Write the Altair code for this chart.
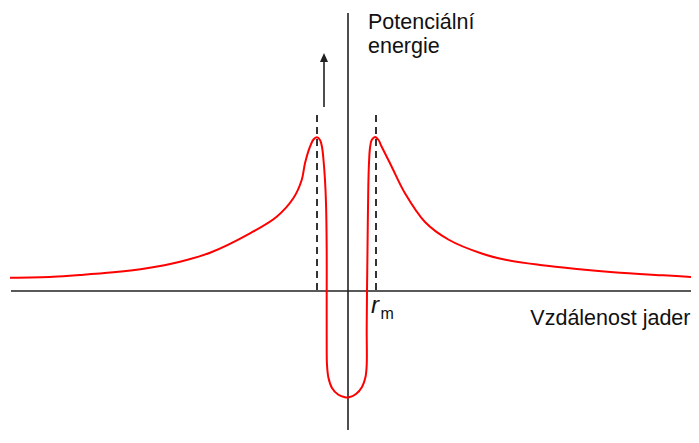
import altair as alt
import pandas as pd

# Potential energy curve (units: arbitrary)
curve_x = [-33.8, -29.5, -26.8, -23.47, -20.13, -16.8, -13.8, -9.8, -7.13, -5.47,
           -4.63, -4.3, -3.8, -3.45, -3.13, -2.8, -2.6, -2.45, -2.3, -2.2,
           -2.13, -2.13, -2.13, -2.1, -1.95, -1.6, -1.0, -0.3, 0.1, 0.8,
           1.4, 1.75, 1.87, 1.87, 1.9, 1.95, 2.03, 2.1, 2.2, 2.37,
           2.7, 3.05, 3.37, 4.37, 5.7, 7.7, 10.03, 13.37, 15.87,
           19.2, 22.87, 26.53, 31.53, 35.03]
curve_y = [1.33, 1.43, 1.6, 1.87, 2.27, 2.93, 3.83, 5.77, 7.43, 9.27,
           11.1, 12.77, 14.43, 15.15, 15.37, 15.1, 14.4, 13.1, 11.1, 8.8,
           4.1, 0.0, -4.9, -7.4, -8.7, -9.7, -10.35, -10.63, -10.63, -10.3,
           -9.6, -8.6, -7.4, -3.9, -0.2, 4.1, 10.43, 12.8, 14.3, 15.1,
           15.4, 15.1, 14.43, 12.43, 9.77, 6.9, 5.15, 3.75, 3.1,
           2.6, 2.2, 1.88, 1.57, 1.37]

# Peak markers (dashed)
peak_x = [-3.1, 2.8]
peak_top = 17.6

# Arrow
arrow_x = -2.4
arrow_y0 = 18.4
arrow_y1 = 23.0
arrow_head_y = 23.35

x_dom = [-34.0, 34.3]
y_dom = [-13.9, 28.3]

xs = alt.Scale(domain=x_dom, nice=False, zero=False)
ys = alt.Scale(domain=y_dom, nice=False, zero=False)

curve_df = pd.DataFrame({"x": curve_x, "y": curve_y, "i": list(range(len(curve_x)))})

h_axis = alt.Chart(pd.DataFrame({"x": [-33.7], "x2": [34.3], "y": [0.0]})).mark_rule(
    color="#222222", strokeWidth=1.6
).encode(
    x=alt.X("x:Q", scale=xs, axis=None),
    x2="x2:Q",
    y=alt.Y("y:Q", scale=ys, axis=None),
)

v_axis = alt.Chart(pd.DataFrame({"x": [0.0], "y": [27.8], "y2": [-13.9]})).mark_rule(
    color="#222222", strokeWidth=1.6
).encode(
    x=alt.X("x:Q", scale=xs, axis=None),
    y=alt.Y("y:Q", scale=ys, axis=None),
    y2="y2:Q",
)

dashes = alt.Chart(pd.DataFrame({"x": peak_x, "y": [peak_top] * 2, "y2": [0.0] * 2})).mark_rule(
    color="#333333", strokeWidth=2, strokeDash=[7, 5]
).encode(
    x=alt.X("x:Q", scale=xs, axis=None),
    y=alt.Y("y:Q", scale=ys, axis=None),
    y2="y2:Q",
)

shaft = alt.Chart(pd.DataFrame({"x": [arrow_x], "y": [arrow_y0], "y2": [arrow_y1]})).mark_rule(
    color="#222222", strokeWidth=1.6
).encode(
    x=alt.X("x:Q", scale=xs, axis=None),
    y=alt.Y("y:Q", scale=ys, axis=None),
    y2="y2:Q",
)

head = alt.Chart(pd.DataFrame({"x": [arrow_x], "y": [arrow_head_y]})).mark_point(
    shape="M0,-1L0.9,1L-0.9,1Z", filled=True, color="#222222", size=80, opacity=1
).encode(
    x=alt.X("x:Q", scale=xs, axis=None),
    y=alt.Y("y:Q", scale=ys, axis=None),
)

curve = alt.Chart(curve_df).mark_line(
    color="#ff0000", strokeWidth=2, interpolate="catmull-rom", clip=True
).encode(
    x=alt.X("x:Q", scale=xs, axis=None),
    y=alt.Y("y:Q", scale=ys, axis=None),
    order="i:Q",
)

top_text = ["Potenciální", "energie"]
top_x = [2.0, 2.0]
top_y = [26.2, 23.8]

top_labels = alt.Chart(pd.DataFrame({"t": top_text, "x": top_x, "y": top_y})).mark_text(
    align="left", baseline="alphabetic", font="Liberation Sans", fontSize=21.5, color="#111111"
).encode(
    x=alt.X("x:Q", scale=xs, axis=None),
    y=alt.Y("y:Q", scale=ys, axis=None),
    text="t:N",
)

x_label = alt.Chart(pd.DataFrame({"t": ["Vzdálenost jader"], "x": [34.25], "y": [-3.4]})).mark_text(
    align="right", baseline="alphabetic", font="Liberation Sans", fontSize=21.5, color="#111111"
).encode(
    x=alt.X("x:Q", scale=xs, axis=None),
    y=alt.Y("y:Q", scale=ys, axis=None),
    text="t:N",
)

r_lab = alt.Chart(pd.DataFrame({"t": ["r"], "x": [2.3], "y": [-2.2]})).mark_text(
    align="left", baseline="alphabetic", font="Liberation Sans", fontSize=24,
    fontStyle="italic", color="#111111"
).encode(
    x=alt.X("x:Q", scale=xs, axis=None),
    y=alt.Y("y:Q", scale=ys, axis=None),
    text="t:N",
)

m_lab = alt.Chart(pd.DataFrame({"t": ["m"], "x": [3.25], "y": [-2.8]})).mark_text(
    align="left", baseline="alphabetic", font="Liberation Sans", fontSize=16, color="#111111"
).encode(
    x=alt.X("x:Q", scale=xs, axis=None),
    y=alt.Y("y:Q", scale=ys, axis=None),
    text="t:N",
)

chart = alt.layer(h_axis, v_axis, dashes, shaft, head, curve, top_labels, x_label, r_lab, m_lab).properties(
    width=683, height=422, autosize=alt.AutoSizeParams(type="none"), padding=0,
    background="white"
).configure_view(stroke=None)

chart.save("out.html", embed_options={"renderer": "svg", "actions": False})
